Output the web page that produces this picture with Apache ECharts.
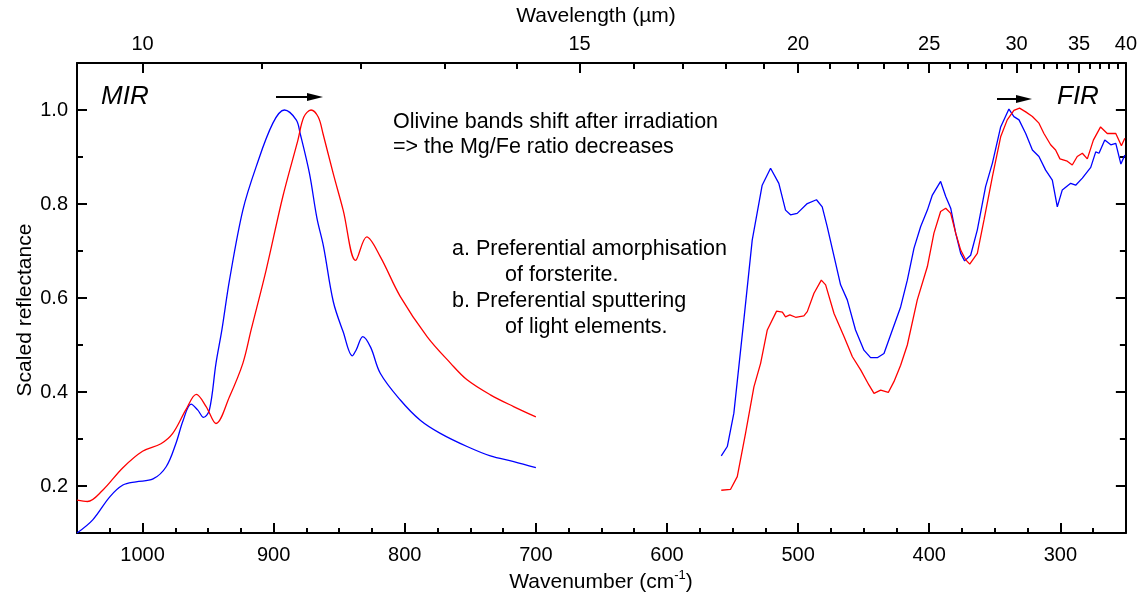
<!DOCTYPE html>
<html><head><meta charset="utf-8">
<script src="https://cdn.jsdelivr.net/npm/echarts@6/dist/echarts.min.js"></script>
<style>html,body{margin:0;padding:0;background:#fff}#c{width:1140px;height:596px}</style>
</head><body><div id="c"></div>
<script>
// Wavenumber (cm-1) / scaled reflectance
const blueMirWn = [1050,1038,1025,1015,1005,992,982,974.5,969,963,958,953.5,949,944,939.5,933.7,923.5,913.4,900.6,891.8,882.8,879.8,872.7,867,862,854.5,847,840,837,832,826,818.7,803.4,788.2,772.9,752.5,734.7,716.9,700];
const blueMirR  = [0.100,0.128,0.177,0.202,0.209,0.215,0.241,0.291,0.340,0.374,0.362,0.346,0.362,0.461,0.532,0.638,0.787,0.879,0.972,1.000,0.979,0.950,0.865,0.770,0.710,0.592,0.528,0.477,0.490,0.518,0.495,0.440,0.383,0.340,0.312,0.284,0.264,0.252,0.239];
const redMirWn  = [1050,1042,1030.4,1015,1000,986,977,967,959,951.5,944,933.7,923.5,917.2,905.7,893,881.5,877,871.5,866,862.4,854.6,847,837.5,829,818.7,803.4,783,765,752.5,734.7,717,700];
const redMirR   = [0.170,0.167,0.191,0.239,0.274,0.290,0.312,0.362,0.395,0.369,0.333,0.390,0.461,0.532,0.660,0.816,0.936,0.985,1.000,0.985,0.950,0.865,0.787,0.680,0.730,0.688,0.603,0.518,0.461,0.426,0.394,0.369,0.347];
const blueFirWn = [558.6,554,549,541.4,535,527.4,521,514.7,509.6,505.8,500.7,493,486,481.6,477.8,471.4,467.6,462.5,456.2,449.8,444.7,439.6,434.5,428.1,421.8,416.7,411.6,406.5,401.4,397.6,391.3,387.4,383.6,379.8,376,373,368.4,363.3,357,351.8,345.5,339.2,335.4,331.5,326.4,321.3,316.3,311.2,306.1,302.3,298.5,292.1,288.3,283.2,276.8,273,270.5,266.1,261.5,257.7,253.8,250.8];
const blueFirR  = [0.264,0.284,0.355,0.553,0.723,0.840,0.876,0.844,0.787,0.777,0.780,0.801,0.809,0.794,0.752,0.674,0.628,0.596,0.532,0.489,0.473,0.473,0.482,0.532,0.581,0.638,0.706,0.752,0.787,0.819,0.848,0.816,0.791,0.738,0.695,0.679,0.691,0.745,0.837,0.887,0.964,1.002,0.986,0.979,0.950,0.915,0.901,0.872,0.851,0.794,0.830,0.844,0.840,0.855,0.878,0.911,0.908,0.936,0.926,0.929,0.885,0.904];
const redFirWn  = [558.6,551.5,546.4,540.1,533.7,528.6,523.5,516.4,512,509.6,506.3,501.9,495.6,493,487.9,482.3,479,472.6,465,458.6,452.3,446,442.1,437,431.2,426.9,421.8,416.7,409.1,401.4,396.4,391.3,387.4,383.6,379.8,376,372.1,369.1,363.3,358.2,351.8,345.5,340.5,335.4,331.1,326.4,321.3,316.3,312.5,307.4,303.6,300.3,294.7,290.9,287.1,283.2,279.4,274.8,269.3,264.2,257.7,253.4,250.8];
const redFirR   = [0.191,0.193,0.220,0.312,0.411,0.461,0.532,0.572,0.570,0.560,0.564,0.559,0.562,0.571,0.610,0.638,0.628,0.567,0.518,0.475,0.447,0.415,0.397,0.404,0.399,0.422,0.457,0.500,0.596,0.667,0.738,0.784,0.791,0.780,0.738,0.702,0.681,0.672,0.695,0.766,0.858,0.943,0.979,0.999,1.004,0.996,0.986,0.972,0.950,0.926,0.915,0.896,0.891,0.883,0.901,0.908,0.896,0.936,0.964,0.950,0.950,0.924,0.940];

const wnTicks = [1000,900,800,700,600,500,400,300];
const wnMinor = [1025,975,950,925,875,850,825,775,750,725,675,650,625,575,550,525,475,450,425,375,350,325,275];
const wlTicks = [10,15,20,25,30,35,40];
const wlMinor = [11,12,13,14,16,17,18,19,21,22,23,24,26,27,28,29,31,32,33,34,36,37,38,39];
const yTicks = [0.2,0.4,0.6,0.8,1.0];
const yMinor = [0.3,0.5,0.7,0.9];

const FONT = 'Liberation Sans, Arial, sans-serif';
const pairs = (xs, ys) => xs.map((x, i) => [x, ys[i]]);
const chart = echarts.init(document.getElementById('c'), null, {renderer: 'canvas'});
const line = {show: true, lineStyle: {color: '#000', width: 2}};
const xBase = {type: 'value', min: 250, max: 1050, inverse: true, splitLine: {show: false}};
const yBase = {type: 'value', min: 0.1, max: 1.1, splitLine: {show: false}};
const tick = (vals, len) => ({show: true, inside: true, length: len, customValues: vals, lineStyle: {color: '#000', width: 2}});
const noLabel = {show: false};
const ann = (text, x, y) => ({type: 'text', style: {text: text, x: x, y: y, textVerticalAlign: 'middle', font: '21.5px ' + FONT, fill: '#000'}});

const mk = (name, color, xs, ys, smooth) => ({
  name, type: 'line', data: pairs(xs, ys), showSymbol: false, smooth: smooth,
  lineStyle: {color: color, width: 1.3}, itemStyle: {color: color}, animation: false, z: 3
});

chart.setOption({
  animation: false,
  grid: {left: 77, right: 14, top: 63, bottom: 63, containLabel: false},
  xAxis: [
    Object.assign({}, xBase, {position: 'bottom', axisLine: line, axisTick: tick(wnTicks, 10),
      axisLabel: {customValues: wnTicks, fontSize: 20, fontFamily: FONT, color: '#000', margin: 12, formatter: v => String(v)}}),
    Object.assign({}, xBase, {position: 'bottom', axisLine: {show: false}, axisTick: tick(wnMinor, 5), axisLabel: noLabel}),
    Object.assign({}, xBase, {position: 'top', axisLine: line, axisTick: tick(wlTicks.map(l => 10000 / l), 10),
      axisLabel: {customValues: wlTicks.map(l => 10000 / l), fontSize: 20, fontFamily: FONT, color: '#000', margin: 9,
        formatter: v => String(Math.round(10000 / v))}}),
    Object.assign({}, xBase, {position: 'top', axisLine: {show: false}, axisTick: tick(wlMinor.map(l => 10000 / l), 6), axisLabel: noLabel})
  ],
  yAxis: [
    Object.assign({}, yBase, {position: 'left', axisLine: line, axisTick: tick(yTicks, 10),
      axisLabel: {customValues: yTicks, fontSize: 20, fontFamily: FONT, color: '#000', margin: 9, formatter: v => v.toFixed(1)}}),
    Object.assign({}, yBase, {position: 'left', axisLine: {show: false}, axisTick: tick(yMinor, 6), axisLabel: noLabel}),
    Object.assign({}, yBase, {position: 'right', axisLine: line, axisTick: tick(yTicks, 10), axisLabel: noLabel}),
    Object.assign({}, yBase, {position: 'right', axisLine: {show: false}, axisTick: tick(yMinor, 6), axisLabel: noLabel})
  ],
  series: [
    mk('blue MIR', '#0000ff', blueMirWn, blueMirR, 0.35),
    mk('red MIR', '#ff0000', redMirWn, redMirR, 0.35),
    mk('blue FIR', '#0000ff', blueFirWn, blueFirR, false),
    mk('red FIR', '#ff0000', redFirWn, redFirR, false)
  ],
  graphic: [
    {type: 'text', style: {text: 'Wavelength (µm)', x: 596, y: 16, textAlign: 'center', textVerticalAlign: 'middle', font: '21px ' + FONT, fill: '#000'}},
    {type: 'text', style: {text: '{a|Wavenumber (cm}{s|-1}{a|)}', x: 601, y: 581, textAlign: 'center', textVerticalAlign: 'middle', fill: '#000',
      rich: {a: {fontSize: 21, fontFamily: FONT, lineHeight: 24, verticalAlign: 'bottom'}, s: {fontSize: 13, fontFamily: FONT, lineHeight: 24, verticalAlign: 'top'}}}},
    {type: 'text', rotation: Math.PI / 2, x: 25, y: 310, style: {text: 'Scaled reflectance', x: 0, y: 0, textAlign: 'center', textVerticalAlign: 'middle', font: '21px ' + FONT, fill: '#000'}},
    {type: 'text', style: {text: 'MIR', x: 101, y: 97, textVerticalAlign: 'middle', font: 'italic 26px ' + FONT, fill: '#000'}},
    {type: 'text', style: {text: 'FIR', x: 1057, y: 97, textVerticalAlign: 'middle', font: 'italic 26px ' + FONT, fill: '#000'}},
    {type: 'line', shape: {x1: 276, y1: 97, x2: 310, y2: 97}, style: {stroke: '#000', lineWidth: 2}},
    {type: 'polygon', shape: {points: [[307, 93], [323, 97], [307, 101]]}, style: {fill: '#000'}},
    {type: 'line', shape: {x1: 997, y1: 99, x2: 1020, y2: 99}, style: {stroke: '#000', lineWidth: 2}},
    {type: 'polygon', shape: {points: [[1016, 95], [1032, 99], [1016, 103]]}, style: {fill: '#000'}},
    ann('Olivine bands shift after irradiation', 393, 122),
    ann('=> the Mg/Fe ratio decreases', 393, 147),
    ann('a. Preferential amorphisation', 452, 249),
    ann('of forsterite.', 505, 275),
    ann('b. Preferential sputtering', 452, 301),
    ann('of light elements.', 505, 327)
  ]
});
</script></body></html>
